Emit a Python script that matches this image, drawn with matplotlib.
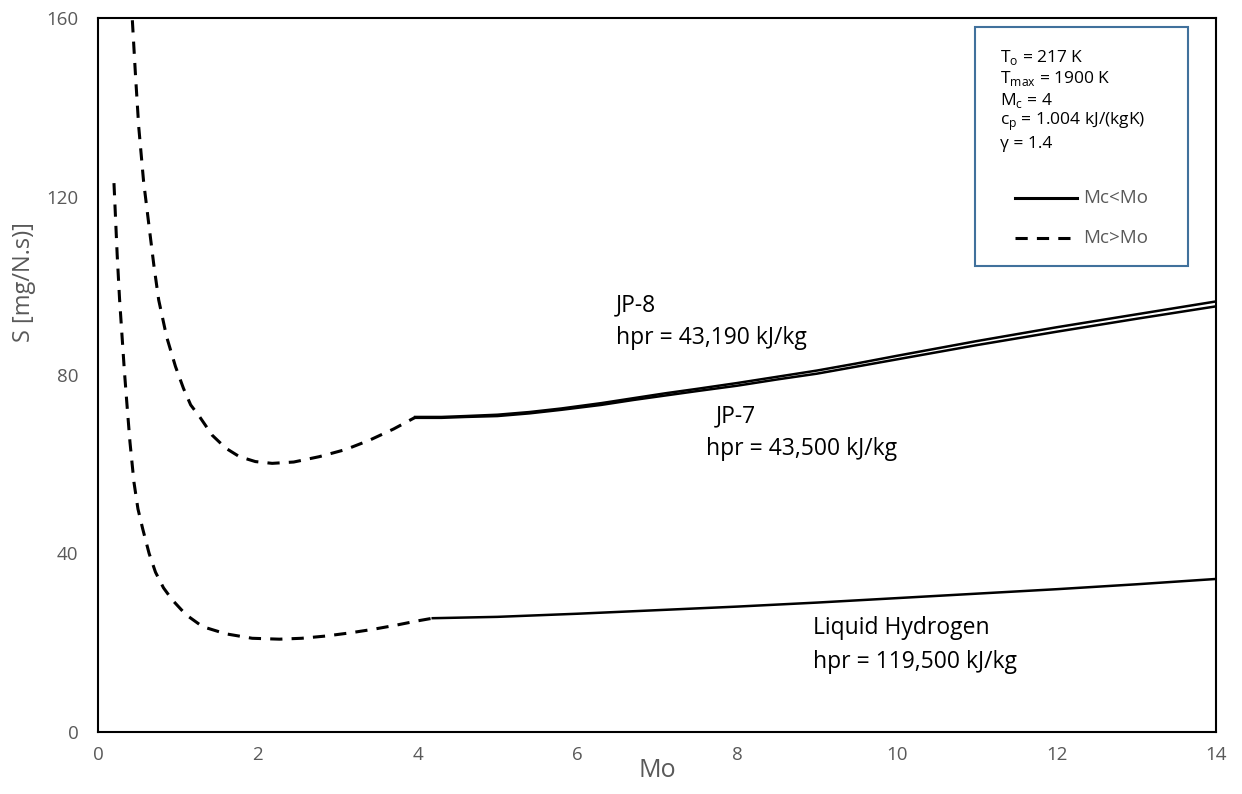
import matplotlib.pyplot as plt
from matplotlib.lines import Line2D
from matplotlib.patches import Rectangle

plt.rcParams['font.family'] = ['Open Sans', 'DejaVu Sans']
plt.rcParams['mathtext.fontset'] = 'custom'
plt.rcParams['mathtext.rm'] = 'Open Sans'

GRAY = '#595959'
BOX = '#41719C'

# JP-8 / JP-7, Mc > Mo branch (dashed)
jp_dash_mo = [0.43, 0.47, 0.51, 0.57, 0.64, 0.70, 0.76, 0.86, 0.97, 1.07, 1.16, 1.27,
              1.43, 1.60, 1.77, 1.97, 2.18, 2.45, 2.77, 3.10, 3.40, 3.70, 3.97]
jp_dash_s = [159.5, 147.0, 135.6, 123.5, 113.2, 104.5, 96.8, 88.5, 81.9, 77.0, 73.3, 70.7,
             66.5, 63.6, 61.7, 60.6, 60.2, 60.5, 61.7, 63.3, 65.4, 67.9, 70.5]

# Mc < Mo branch (solid)
jp_mo = [3.97, 4.3, 4.6, 5.0, 5.4, 5.8, 6.3, 6.7, 7.1, 7.5, 8.0, 8.5, 9.0, 9.5, 10.0,
         11.0, 12.0, 13.0, 14.0]
jp8_s = [70.6, 70.6, 70.8, 71.1, 71.7, 72.5, 73.7, 74.8, 75.9, 76.9, 78.2, 79.6, 81.0,
         82.6, 84.3, 87.6, 90.7, 93.6, 96.5]
jp7_s = [70.4, 70.4, 70.6, 70.8, 71.4, 72.2, 73.3, 74.4, 75.4, 76.4, 77.6, 79.0, 80.3,
         81.9, 83.5, 86.7, 89.7, 92.6, 95.4]

# Liquid hydrogen
h2_dash_mo = [0.20, 0.22, 0.24, 0.27, 0.30, 0.33, 0.36, 0.40, 0.45, 0.50, 0.56, 0.64,
              0.72, 0.82, 0.93, 1.10, 1.31, 1.60, 1.93, 2.27, 2.55, 2.85, 3.15, 3.44,
              3.72, 4.00, 4.19]
h2_dash_s = [123.0, 115.0, 107.0, 97.0, 89.0, 81.0, 74.0, 65.0, 56.0, 50.0, 45.5, 40.0,
             35.8, 32.3, 29.6, 26.3, 23.6, 22.0, 21.0, 20.8, 21.0, 21.5, 22.2, 23.0,
             23.9, 24.9, 25.5]
h2_mo = [4.19, 5, 6, 7, 8, 9, 10, 11, 12, 13, 14]
h2_s = [25.5, 25.8, 26.5, 27.3, 28.1, 29.0, 30.0, 31.0, 32.0, 33.1, 34.3]

x_ticks = [0, 2, 4, 6, 8, 10, 12, 14]
y_ticks = [0, 40, 80, 120, 160]

fig = plt.figure(figsize=(12.42, 7.94), dpi=100)
ax = fig.add_axes([0.0789, 0.0781, 0.9005, 0.8992])

dash = dict(color='black', lw=2.2, dashes=(4, 3), solid_capstyle='butt')
ax.plot(jp_dash_mo, jp_dash_s, **dash)
ax.plot(h2_dash_mo, h2_dash_s, **dash)
ax.plot(jp_mo, jp8_s, color='black', lw=1.8)
ax.plot(jp_mo, jp7_s, color='black', lw=1.8)
ax.plot(h2_mo, h2_s, color='black', lw=1.8)

ax.set_xlim(0, 14)
ax.set_ylim(0, 160)
ax.set_xticks(x_ticks)
ax.set_yticks(y_ticks)
ax.tick_params(length=0, labelsize=13.5, labelcolor=GRAY)
ax.tick_params(axis='x', pad=10)
ax.tick_params(axis='y', pad=14)
for s in ax.spines.values():
    s.set_linewidth(1.5)
    s.set_color('black')

ax.set_xlabel('Mo', fontsize=18, color=GRAY, labelpad=-4)
ax.set_ylabel('S [mg/N.s)]', fontsize=17, color=GRAY)
ax.yaxis.set_label_coords(-0.055, 0.63)

# curve annotations
lab = dict(fontsize=16.5, color='black', va='center', ha='left')
ax.text(6.48, 95.7, 'JP-8', **lab)
ax.text(6.48, 88.3, 'hpr = 43,190 kJ/kg', **lab)
ax.text(7.73, 70.8, 'JP-7', **lab)
ax.text(7.61, 63.4, 'hpr = 43,500 kJ/kg', **lab)
ax.text(8.95, 23.3, 'Liquid Hydrogen', **lab)
ax.text(8.95, 15.7, 'hpr = 119,500 kJ/kg', **lab)

# parameter box
fig.patches.append(Rectangle((0.785, 0.665), 0.1715, 0.301, transform=fig.transFigure,
                             facecolor='white', edgecolor=BOX, lw=1.5, zorder=5))
params = [r'T$_\mathrm{o}$ = 217 K', r'T$_\mathrm{max}$ = 1900 K', r'M$_\mathrm{c}$ = 4',
          r'c$_\mathrm{p}$ = 1.004 kJ/(kgK)', 'γ = 1.4']
for i, t in enumerate(params):
    fig.text(0.805, 0.928 - i * 0.0272, t, fontsize=12.5, color='black', va='center', zorder=6)

fig.lines.append(Line2D([0.8175, 0.867], [0.751, 0.751], transform=fig.transFigure,
                        color='black', lw=2.2, zorder=6))
fig.lines.append(Line2D([0.8175, 0.867], [0.700, 0.700], transform=fig.transFigure,
                        color='black', lw=2.2, dashes=(4, 3), zorder=6))
fig.text(0.872, 0.751, 'Mc<Mo', fontsize=13.5, color=GRAY, va='center', zorder=6)
fig.text(0.872, 0.700, 'Mc>Mo', fontsize=13.5, color=GRAY, va='center', zorder=6)

fig.savefig('out.png', dpi=100, facecolor='white')
